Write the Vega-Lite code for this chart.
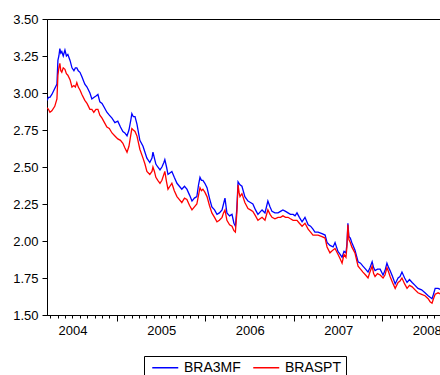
{
 "$schema": "https://vega.github.io/schema/vega-lite/v6.json",
 "width": 394, "height": 296,
 "autosize": "none",
 "padding": {"left": 47, "top": 19, "right": 0, "bottom": 60},
 "background": "white",
 "config": {"view": {"stroke": "black", "strokeWidth": 1}, "font": "Liberation Sans"},
 "data": {"values": [
{"d":"2003-09-18","BRA3MF":2.95,"BRASPT":2.90},
{"d":"2003-09-24","BRA3MF":2.97,"BRASPT":2.89},
{"d":"2003-09-30","BRA3MF":2.97,"BRASPT":2.87},
{"d":"2003-10-08","BRA3MF":2.99,"BRASPT":2.88},
{"d":"2003-10-20","BRA3MF":3.03,"BRASPT":2.91},
{"d":"2003-10-29","BRA3MF":3.06,"BRASPT":2.96},
{"d":"2003-11-02","BRA3MF":3.22,"BRASPT":3.12},
{"d":"2003-11-06","BRA3MF":3.25,"BRASPT":3.17},
{"d":"2003-11-10","BRA3MF":3.30,"BRASPT":3.20},
{"d":"2003-11-14","BRA3MF":3.27,"BRASPT":3.15},
{"d":"2003-11-18","BRA3MF":3.28,"BRASPT":3.14},
{"d":"2003-11-24","BRA3MF":3.25,"BRASPT":3.17},
{"d":"2003-12-01","BRA3MF":3.29,"BRASPT":3.16},
{"d":"2003-12-07","BRA3MF":3.25,"BRASPT":3.13},
{"d":"2003-12-13","BRA3MF":3.26,"BRASPT":3.12},
{"d":"2003-12-22","BRA3MF":3.22,"BRASPT":3.09},
{"d":"2003-12-30","BRA3MF":3.17,"BRASPT":3.04},
{"d":"2004-01-07","BRA3MF":3.15,"BRASPT":3.05},
{"d":"2004-01-13","BRA3MF":3.17,"BRASPT":3.04},
{"d":"2004-01-19","BRA3MF":3.17,"BRASPT":3.07},
{"d":"2004-01-25","BRA3MF":3.15,"BRASPT":3.04},
{"d":"2004-02-01","BRA3MF":3.14,"BRASPT":3.02},
{"d":"2004-02-09","BRA3MF":3.11,"BRASPT":2.99},
{"d":"2004-02-21","BRA3MF":3.06,"BRASPT":2.95},
{"d":"2004-03-01","BRA3MF":3.04,"BRASPT":2.93},
{"d":"2004-03-13","BRA3MF":3.00,"BRASPT":2.89},
{"d":"2004-03-21","BRA3MF":2.96,"BRASPT":2.89},
{"d":"2004-03-29","BRA3MF":2.97,"BRASPT":2.87},
{"d":"2004-04-07","BRA3MF":2.98,"BRASPT":2.89},
{"d":"2004-04-15","BRA3MF":2.99,"BRASPT":2.89},
{"d":"2004-04-23","BRA3MF":2.94,"BRASPT":2.85},
{"d":"2004-05-02","BRA3MF":2.93,"BRASPT":2.83},
{"d":"2004-05-12","BRA3MF":2.90,"BRASPT":2.80},
{"d":"2004-05-22","BRA3MF":2.87,"BRASPT":2.77},
{"d":"2004-06-01","BRA3MF":2.85,"BRASPT":2.76},
{"d":"2004-06-12","BRA3MF":2.83,"BRASPT":2.73},
{"d":"2004-06-24","BRA3MF":2.80,"BRASPT":2.71},
{"d":"2004-07-06","BRA3MF":2.81,"BRASPT":2.69},
{"d":"2004-07-17","BRA3MF":2.77,"BRASPT":2.68},
{"d":"2004-07-27","BRA3MF":2.74,"BRASPT":2.66},
{"d":"2004-08-04","BRA3MF":2.73,"BRASPT":2.63},
{"d":"2004-08-13","BRA3MF":2.71,"BRASPT":2.60},
{"d":"2004-08-21","BRA3MF":2.75,"BRASPT":2.64},
{"d":"2004-08-29","BRA3MF":2.82,"BRASPT":2.72},
{"d":"2004-09-02","BRA3MF":2.86,"BRASPT":2.76},
{"d":"2004-09-08","BRA3MF":2.84,"BRASPT":2.75},
{"d":"2004-09-15","BRA3MF":2.84,"BRASPT":2.74},
{"d":"2004-09-23","BRA3MF":2.79,"BRASPT":2.71},
{"d":"2004-10-05","BRA3MF":2.68,"BRASPT":2.62},
{"d":"2004-10-18","BRA3MF":2.64,"BRASPT":2.56},
{"d":"2004-10-26","BRA3MF":2.60,"BRASPT":2.52},
{"d":"2004-11-03","BRA3MF":2.56,"BRASPT":2.47},
{"d":"2004-11-15","BRA3MF":2.53,"BRASPT":2.45},
{"d":"2004-11-24","BRA3MF":2.56,"BRASPT":2.47},
{"d":"2004-11-28","BRA3MF":2.60,"BRASPT":2.50},
{"d":"2004-12-04","BRA3MF":2.56,"BRASPT":2.47},
{"d":"2004-12-10","BRA3MF":2.52,"BRASPT":2.43},
{"d":"2004-12-18","BRA3MF":2.50,"BRASPT":2.41},
{"d":"2004-12-27","BRA3MF":2.48,"BRASPT":2.39},
{"d":"2005-01-04","BRA3MF":2.50,"BRASPT":2.41},
{"d":"2005-01-12","BRA3MF":2.53,"BRASPT":2.45},
{"d":"2005-01-16","BRA3MF":2.55,"BRASPT":2.47},
{"d":"2005-01-23","BRA3MF":2.50,"BRASPT":2.40},
{"d":"2005-01-29","BRA3MF":2.45,"BRASPT":2.35},
{"d":"2005-02-06","BRA3MF":2.46,"BRASPT":2.37},
{"d":"2005-02-14","BRA3MF":2.47,"BRASPT":2.39},
{"d":"2005-02-24","BRA3MF":2.43,"BRASPT":2.34},
{"d":"2005-03-07","BRA3MF":2.39,"BRASPT":2.30},
{"d":"2005-03-17","BRA3MF":2.37,"BRASPT":2.28},
{"d":"2005-03-27","BRA3MF":2.35,"BRASPT":2.26},
{"d":"2005-04-07","BRA3MF":2.37,"BRASPT":2.29},
{"d":"2005-04-17","BRA3MF":2.35,"BRASPT":2.28},
{"d":"2005-04-28","BRA3MF":2.31,"BRASPT":2.24},
{"d":"2005-05-08","BRA3MF":2.27,"BRASPT":2.21},
{"d":"2005-05-18","BRA3MF":2.29,"BRASPT":2.23},
{"d":"2005-05-28","BRA3MF":2.30,"BRASPT":2.25},
{"d":"2005-06-04","BRA3MF":2.38,"BRASPT":2.31},
{"d":"2005-06-10","BRA3MF":2.43,"BRASPT":2.36},
{"d":"2005-06-16","BRA3MF":2.41,"BRASPT":2.34},
{"d":"2005-06-22","BRA3MF":2.41,"BRASPT":2.35},
{"d":"2005-06-30","BRA3MF":2.39,"BRASPT":2.33},
{"d":"2005-07-09","BRA3MF":2.36,"BRASPT":2.30},
{"d":"2005-07-19","BRA3MF":2.29,"BRASPT":2.24},
{"d":"2005-07-29","BRA3MF":2.23,"BRASPT":2.19},
{"d":"2005-08-09","BRA3MF":2.21,"BRASPT":2.16},
{"d":"2005-08-19","BRA3MF":2.18,"BRASPT":2.13},
{"d":"2005-08-29","BRA3MF":2.19,"BRASPT":2.14},
{"d":"2005-09-09","BRA3MF":2.21,"BRASPT":2.16},
{"d":"2005-09-15","BRA3MF":2.25,"BRASPT":2.19},
{"d":"2005-09-21","BRA3MF":2.29,"BRASPT":2.21},
{"d":"2005-09-29","BRA3MF":2.19,"BRASPT":2.14},
{"d":"2005-10-10","BRA3MF":2.17,"BRASPT":2.11},
{"d":"2005-10-20","BRA3MF":2.18,"BRASPT":2.10},
{"d":"2005-10-28","BRA3MF":2.12,"BRASPT":2.07},
{"d":"2005-11-03","BRA3MF":2.10,"BRASPT":2.06},
{"d":"2005-11-09","BRA3MF":2.22,"BRASPT":2.19},
{"d":"2005-11-14","BRA3MF":2.40,"BRASPT":2.38},
{"d":"2005-11-18","BRA3MF":2.39,"BRASPT":2.33},
{"d":"2005-11-22","BRA3MF":2.38,"BRASPT":2.30},
{"d":"2005-11-30","BRA3MF":2.37,"BRASPT":2.32},
{"d":"2005-12-12","BRA3MF":2.30,"BRASPT":2.26},
{"d":"2005-12-25","BRA3MF":2.27,"BRASPT":2.22},
{"d":"2006-01-04","BRA3MF":2.26,"BRASPT":2.21},
{"d":"2006-01-14","BRA3MF":2.25,"BRASPT":2.20},
{"d":"2006-01-25","BRA3MF":2.21,"BRASPT":2.17},
{"d":"2006-02-04","BRA3MF":2.18,"BRASPT":2.14},
{"d":"2006-02-21","BRA3MF":2.21,"BRASPT":2.16},
{"d":"2006-03-05","BRA3MF":2.19,"BRASPT":2.14},
{"d":"2006-03-17","BRA3MF":2.27,"BRASPT":2.21},
{"d":"2006-03-26","BRA3MF":2.23,"BRASPT":2.18},
{"d":"2006-04-03","BRA3MF":2.20,"BRASPT":2.16},
{"d":"2006-04-15","BRA3MF":2.19,"BRASPT":2.15},
{"d":"2006-04-28","BRA3MF":2.19,"BRASPT":2.16},
{"d":"2006-05-08","BRA3MF":2.20,"BRASPT":2.16},
{"d":"2006-05-18","BRA3MF":2.21,"BRASPT":2.17},
{"d":"2006-05-29","BRA3MF":2.20,"BRASPT":2.16},
{"d":"2006-06-08","BRA3MF":2.19,"BRASPT":2.16},
{"d":"2006-06-18","BRA3MF":2.18,"BRASPT":2.15},
{"d":"2006-06-29","BRA3MF":2.18,"BRASPT":2.14},
{"d":"2006-07-07","BRA3MF":2.17,"BRASPT":2.14},
{"d":"2006-07-15","BRA3MF":2.19,"BRASPT":2.14},
{"d":"2006-07-25","BRA3MF":2.16,"BRASPT":2.12},
{"d":"2006-08-05","BRA3MF":2.13,"BRASPT":2.10},
{"d":"2006-08-17","BRA3MF":2.16,"BRASPT":2.12},
{"d":"2006-08-30","BRA3MF":2.11,"BRASPT":2.08},
{"d":"2006-09-09","BRA3MF":2.10,"BRASPT":2.06},
{"d":"2006-09-19","BRA3MF":2.08,"BRASPT":2.04},
{"d":"2006-09-27","BRA3MF":2.06,"BRASPT":2.04},
{"d":"2006-10-10","BRA3MF":2.06,"BRASPT":2.04},
{"d":"2006-10-26","BRA3MF":2.05,"BRASPT":2.03},
{"d":"2006-11-08","BRA3MF":2.04,"BRASPT":2.02},
{"d":"2006-11-16","BRA3MF":1.99,"BRASPT":1.96},
{"d":"2006-11-28","BRA3MF":1.97,"BRASPT":1.92},
{"d":"2006-12-11","BRA3MF":1.96,"BRASPT":1.94},
{"d":"2006-12-19","BRA3MF":1.99,"BRASPT":1.95},
{"d":"2006-12-31","BRA3MF":1.93,"BRASPT":1.91},
{"d":"2007-01-09","BRA3MF":1.91,"BRASPT":1.88},
{"d":"2007-01-17","BRA3MF":1.89,"BRASPT":1.85},
{"d":"2007-01-25","BRA3MF":1.93,"BRASPT":1.91},
{"d":"2007-02-02","BRA3MF":1.92,"BRASPT":1.89},
{"d":"2007-02-06","BRA3MF":1.98,"BRASPT":1.96},
{"d":"2007-02-10","BRA3MF":2.12,"BRASPT":2.11},
{"d":"2007-02-14","BRA3MF":2.03,"BRASPT":2.01},
{"d":"2007-02-20","BRA3MF":2.02,"BRASPT":1.99},
{"d":"2007-02-26","BRA3MF":1.99,"BRASPT":1.96},
{"d":"2007-03-11","BRA3MF":1.94,"BRASPT":1.92},
{"d":"2007-03-24","BRA3MF":1.86,"BRASPT":1.83},
{"d":"2007-04-03","BRA3MF":1.85,"BRASPT":1.81},
{"d":"2007-04-13","BRA3MF":1.83,"BRASPT":1.79},
{"d":"2007-04-24","BRA3MF":1.81,"BRASPT":1.77},
{"d":"2007-05-04","BRA3MF":1.79,"BRASPT":1.75},
{"d":"2007-05-12","BRA3MF":1.82,"BRASPT":1.79},
{"d":"2007-05-21","BRA3MF":1.86,"BRASPT":1.83},
{"d":"2007-05-27","BRA3MF":1.82,"BRASPT":1.78},
{"d":"2007-06-02","BRA3MF":1.80,"BRASPT":1.76},
{"d":"2007-06-12","BRA3MF":1.81,"BRASPT":1.78},
{"d":"2007-06-23","BRA3MF":1.81,"BRASPT":1.77},
{"d":"2007-07-05","BRA3MF":1.77,"BRASPT":1.75},
{"d":"2007-07-13","BRA3MF":1.80,"BRASPT":1.77},
{"d":"2007-07-21","BRA3MF":1.85,"BRASPT":1.82},
{"d":"2007-07-28","BRA3MF":1.82,"BRASPT":1.79},
{"d":"2007-08-03","BRA3MF":1.80,"BRASPT":1.76},
{"d":"2007-08-13","BRA3MF":1.76,"BRASPT":1.72},
{"d":"2007-08-24","BRA3MF":1.71,"BRASPT":1.68},
{"d":"2007-09-05","BRA3MF":1.75,"BRASPT":1.72},
{"d":"2007-09-13","BRA3MF":1.76,"BRASPT":1.73},
{"d":"2007-09-21","BRA3MF":1.79,"BRASPT":1.75},
{"d":"2007-10-02","BRA3MF":1.75,"BRASPT":1.71},
{"d":"2007-10-12","BRA3MF":1.72,"BRASPT":1.68},
{"d":"2007-10-22","BRA3MF":1.74,"BRASPT":1.70},
{"d":"2007-11-02","BRA3MF":1.72,"BRASPT":1.69},
{"d":"2007-11-14","BRA3MF":1.70,"BRASPT":1.67},
{"d":"2007-11-26","BRA3MF":1.68,"BRASPT":1.65},
{"d":"2007-12-11","BRA3MF":1.67,"BRASPT":1.64},
{"d":"2007-12-25","BRA3MF":1.65,"BRASPT":1.63},
{"d":"2008-01-07","BRA3MF":1.63,"BRASPT":1.61},
{"d":"2008-01-15","BRA3MF":1.62,"BRASPT":1.59},
{"d":"2008-01-23","BRA3MF":1.61,"BRASPT":1.58},
{"d":"2008-01-29","BRA3MF":1.64,"BRASPT":1.61},
{"d":"2008-02-05","BRA3MF":1.68,"BRASPT":1.64},
{"d":"2008-02-17","BRA3MF":1.68,"BRASPT":1.65},
{"d":"2008-02-29","BRA3MF":1.67,"BRASPT":1.64}
 ]},
 "transform": [{"fold": ["BRA3MF", "BRASPT"], "as": ["series", "value"]}],
 "mark": {"type": "line", "strokeWidth": 1.3, "clip": true},
 "encoding": {
  "x": {"field": "d", "type": "temporal",
   "scale": {"type": "utc", "domain": [{"year": 2003, "month": 9, "date": 18, "utc": true}, {"year": 2008, "month": 2, "date": 29, "utc": true}]},
   "axis": {
    "title": null, "grid": false,
    "values": [
     {"year":2003,"month":10,"date":1,"utc":true},{"year":2003,"month":11,"date":1,"utc":true},{"year":2003,"month":12,"date":1,"utc":true},
     {"year":2004,"month":1,"date":1,"utc":true},{"year":2004,"month":2,"date":1,"utc":true},{"year":2004,"month":3,"date":1,"utc":true},{"year":2004,"month":4,"date":1,"utc":true},{"year":2004,"month":5,"date":1,"utc":true},{"year":2004,"month":6,"date":1,"utc":true},{"year":2004,"month":7,"date":1,"utc":true},{"year":2004,"month":8,"date":1,"utc":true},{"year":2004,"month":9,"date":1,"utc":true},{"year":2004,"month":10,"date":1,"utc":true},{"year":2004,"month":11,"date":1,"utc":true},{"year":2004,"month":12,"date":1,"utc":true},
     {"year":2005,"month":1,"date":1,"utc":true},{"year":2005,"month":2,"date":1,"utc":true},{"year":2005,"month":3,"date":1,"utc":true},{"year":2005,"month":4,"date":1,"utc":true},{"year":2005,"month":5,"date":1,"utc":true},{"year":2005,"month":6,"date":1,"utc":true},{"year":2005,"month":7,"date":1,"utc":true},{"year":2005,"month":8,"date":1,"utc":true},{"year":2005,"month":9,"date":1,"utc":true},{"year":2005,"month":10,"date":1,"utc":true},{"year":2005,"month":11,"date":1,"utc":true},{"year":2005,"month":12,"date":1,"utc":true},
     {"year":2006,"month":1,"date":1,"utc":true},{"year":2006,"month":2,"date":1,"utc":true},{"year":2006,"month":3,"date":1,"utc":true},{"year":2006,"month":4,"date":1,"utc":true},{"year":2006,"month":5,"date":1,"utc":true},{"year":2006,"month":6,"date":1,"utc":true},{"year":2006,"month":7,"date":1,"utc":true},{"year":2006,"month":8,"date":1,"utc":true},{"year":2006,"month":9,"date":1,"utc":true},{"year":2006,"month":10,"date":1,"utc":true},{"year":2006,"month":11,"date":1,"utc":true},{"year":2006,"month":12,"date":1,"utc":true},
     {"year":2007,"month":1,"date":1,"utc":true},{"year":2007,"month":2,"date":1,"utc":true},{"year":2007,"month":3,"date":1,"utc":true},{"year":2007,"month":4,"date":1,"utc":true},{"year":2007,"month":5,"date":1,"utc":true},{"year":2007,"month":6,"date":1,"utc":true},{"year":2007,"month":7,"date":1,"utc":true},{"year":2007,"month":8,"date":1,"utc":true},{"year":2007,"month":9,"date":1,"utc":true},{"year":2007,"month":10,"date":1,"utc":true},{"year":2007,"month":11,"date":1,"utc":true},{"year":2007,"month":12,"date":1,"utc":true},
     {"year":2008,"month":1,"date":1,"utc":true},{"year":2008,"month":2,"date":1,"utc":true}
    ],
    "labelExpr": "utcmonth(datum.value) == 0 ? utcFormat(datum.value, '%Y') : ''",
    "tickSize": {"condition": {"test": "utcmonth(datum.value) == 6", "value": 6}, "value": 3},
    "tickColor": "black", "domainColor": "black", "tickWidth": 1, "domainWidth": 1,
    "labelFontSize": 13, "labelColor": "black", "labelPadding": 6,
    "labelFlush": false, "labelOverlap": false, "labelAngle": 0
   }
  },
  "y": {"field": "value", "type": "quantitative",
   "scale": {"domain": [1.5, 3.5], "nice": false, "zero": false},
   "axis": {"title": null, "grid": false, "values": [1.5, 1.75, 2.0, 2.25, 2.5, 2.75, 3.0, 3.25, 3.5],
    "format": ".2f", "tickSize": 5, "labelPadding": 4, "labelFontSize": 13, "labelColor": "black",
    "labelOverlap": false, "labelFlush": false,
    "domainColor": "black", "tickColor": "black", "tickWidth": 1, "domainWidth": 1}
  },
  "color": {"field": "series", "type": "nominal",
   "scale": {"domain": ["BRA3MF", "BRASPT"], "range": ["#0000ff", "#ff0000"]},
   "legend": {"orient": "none", "legendX": 97, "legendY": 337, "direction": "horizontal", "title": null,
    "symbolType": "M-0.5,0L3.5,0", "symbolSize": 169, "symbolStrokeWidth": 1.5,
    "labelFontSize": 14, "labelColor": "black", "labelFont": "Liberation Sans",
    "strokeColor": "black", "fillColor": "white", "padding": 4, "columnPadding": 8, "labelOffset": 21}
  }
 }
}
